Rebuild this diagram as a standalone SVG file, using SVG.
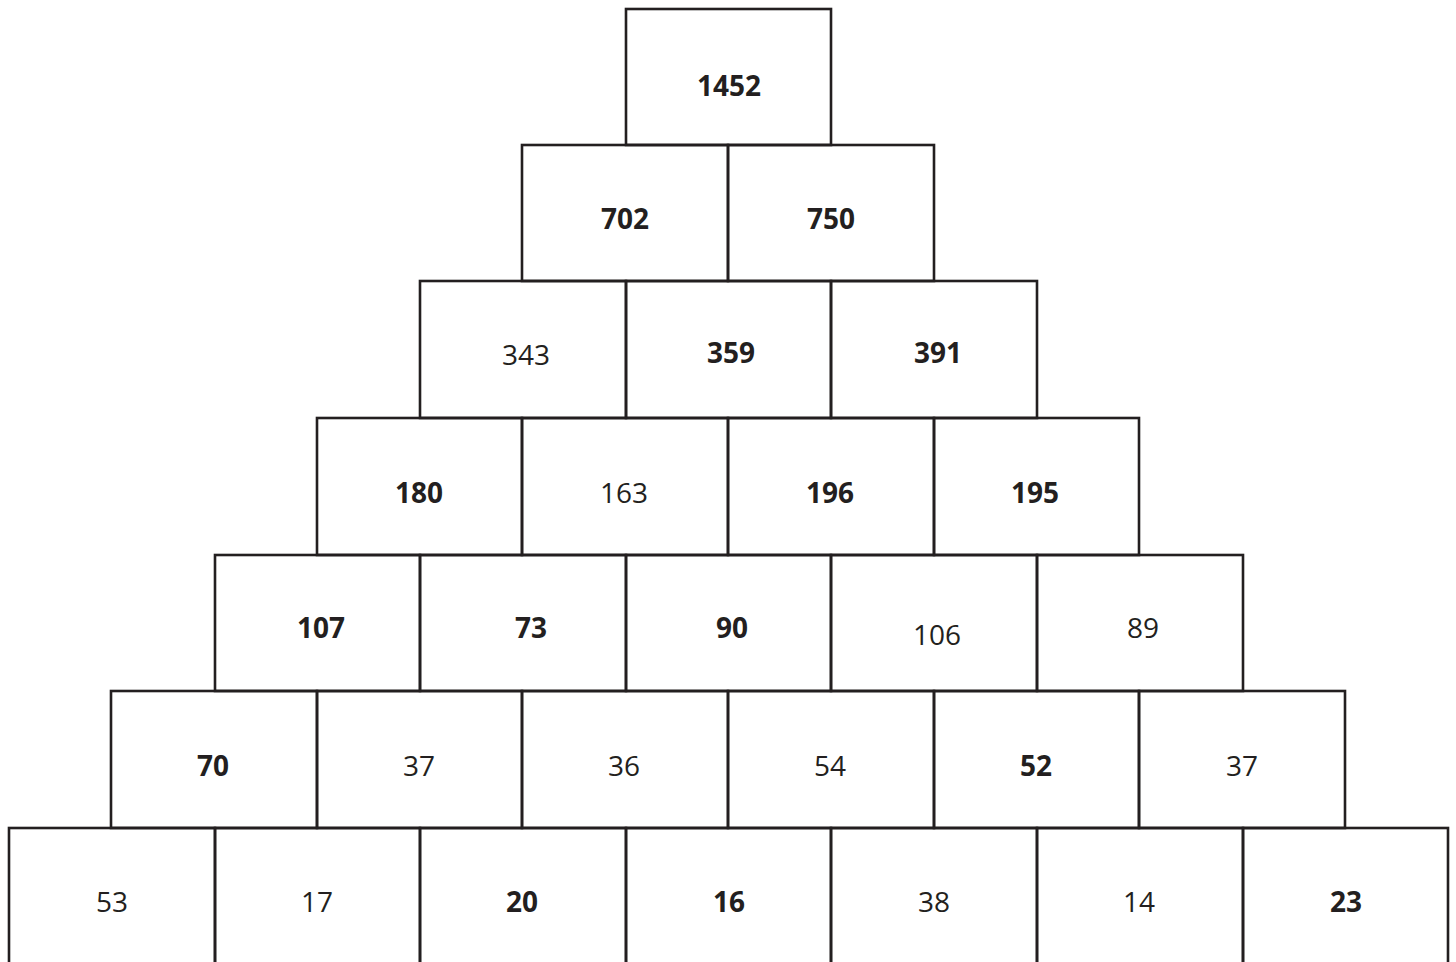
<svg xmlns="http://www.w3.org/2000/svg" width="1456" height="962" viewBox="0 0 1456 962">
<style>
rect{fill:none;stroke:#231f20;stroke-width:2.6}
text{font-family:"Open Sans","Liberation Sans",sans-serif;font-size:28px;fill:#231f20;text-anchor:middle}
.b{font-weight:bold}
</style>
<rect x="0" y="0" width="1456" height="962" style="fill:#fff;stroke:none"/>
<g id="r1c1"><rect x="626" y="9" width="205" height="136"/><text class="b" x="729" y="96">1452</text></g>
<g id="r2c1"><rect x="522" y="145" width="206" height="136"/><text class="b" x="625" y="229">702</text></g>
<g id="r2c2"><rect x="728" y="145" width="206" height="136"/><text class="b" x="831" y="229">750</text></g>
<g id="r3c1"><rect x="420" y="281" width="206" height="137"/><text x="526" y="365">343</text></g>
<g id="r3c2"><rect x="626" y="281" width="205" height="137"/><text class="b" x="731" y="363">359</text></g>
<g id="r3c3"><rect x="831" y="281" width="206" height="137"/><text class="b" x="938" y="363">391</text></g>
<g id="r4c1"><rect x="317" y="418" width="205" height="137"/><text class="b" x="419" y="503">180</text></g>
<g id="r4c2"><rect x="522" y="418" width="206" height="137"/><text x="624" y="503">163</text></g>
<g id="r4c3"><rect x="728" y="418" width="206" height="137"/><text class="b" x="830" y="503">196</text></g>
<g id="r4c4"><rect x="934" y="418" width="205" height="137"/><text class="b" x="1035" y="503">195</text></g>
<g id="r5c1"><rect x="215" y="555" width="205" height="136"/><text class="b" x="321" y="638">107</text></g>
<g id="r5c2"><rect x="420" y="555" width="206" height="136"/><text class="b" x="531" y="638">73</text></g>
<g id="r5c3"><rect x="626" y="555" width="205" height="136"/><text class="b" x="732" y="638">90</text></g>
<g id="r5c4"><rect x="831" y="555" width="206" height="136"/><text x="937" y="645">106</text></g>
<g id="r5c5"><rect x="1037" y="555" width="206" height="136"/><text x="1143" y="638">89</text></g>
<g id="r6c1"><rect x="111" y="691" width="206" height="137"/><text class="b" x="213" y="776">70</text></g>
<g id="r6c2"><rect x="317" y="691" width="205" height="137"/><text x="419" y="776">37</text></g>
<g id="r6c3"><rect x="522" y="691" width="206" height="137"/><text x="624" y="776">36</text></g>
<g id="r6c4"><rect x="728" y="691" width="206" height="137"/><text x="830" y="776">54</text></g>
<g id="r6c5"><rect x="934" y="691" width="205" height="137"/><text class="b" x="1036" y="776">52</text></g>
<g id="r6c6"><rect x="1139" y="691" width="206" height="137"/><text x="1242" y="776">37</text></g>
<g id="r7c1"><rect x="9" y="828" width="206" height="150"/><text x="112" y="912">53</text></g>
<g id="r7c2"><rect x="215" y="828" width="205" height="150"/><text x="317" y="912">17</text></g>
<g id="r7c3"><rect x="420" y="828" width="206" height="150"/><text class="b" x="522" y="912">20</text></g>
<g id="r7c4"><rect x="626" y="828" width="205" height="150"/><text class="b" x="729" y="912">16</text></g>
<g id="r7c5"><rect x="831" y="828" width="206" height="150"/><text x="934" y="912">38</text></g>
<g id="r7c6"><rect x="1037" y="828" width="206" height="150"/><text x="1139" y="912">14</text></g>
<g id="r7c7"><rect x="1243" y="828" width="205" height="150"/><text class="b" x="1346" y="912">23</text></g>
<g id="connectors"></g>
</svg>
